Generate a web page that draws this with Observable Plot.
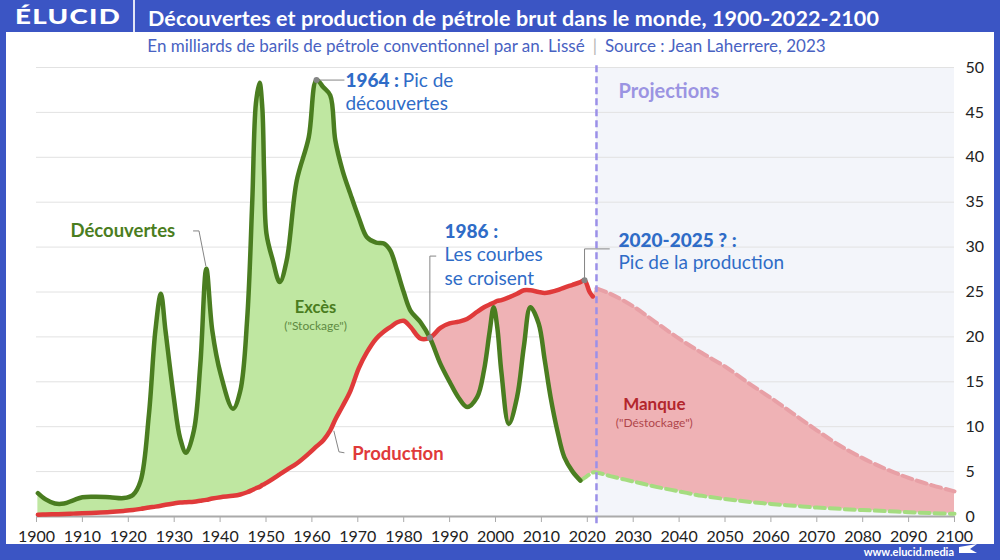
<!DOCTYPE html>
<html><head><meta charset="utf-8">
<script src="https://cdn.jsdelivr.net/npm/d3@7"></script>
<script src="https://cdn.jsdelivr.net/npm/@observablehq/plot@0.6"></script>
<style>
html,body{margin:0;padding:0}
body{width:1000px;height:560px;background:#3b55c4;position:relative;overflow:hidden;font-family:Lato,"Noto Sans",sans-serif}
#panel{position:absolute;left:6px;top:32px;width:988px;height:512px;background:#fff}
#chart{position:absolute;left:0;top:0}
#logo{position:absolute;left:15px;top:2px;height:28px;line-height:28px;color:#fff;font-weight:900;font-size:21px;letter-spacing:1px;transform:scaleX(1.32);transform-origin:left center}
#sep{position:absolute;left:133px;top:0;width:1.5px;height:32px;background:#fff;opacity:.85}
#title{position:absolute;left:148px;top:5px;line-height:26px;color:#fff;font-weight:700;font-size:21.5px;letter-spacing:0.1px;white-space:nowrap}
#subtitle{position:absolute;left:0;width:973px;text-align:center;top:37px;line-height:18px;color:#4862c2;font-size:17px;white-space:nowrap}
#subtitle .bar{color:#b5b5b5;margin:0 8px}
#footer{position:absolute;right:46px;top:545px;line-height:13px;color:#fff;font-size:11px;font-weight:700}
#flag{position:absolute;left:0;top:0}
</style>
</head><body>
<div id="panel"></div>
<div id="chart"></div>
<div id="logo">ÉLUCID</div>
<div id="sep"></div>
<div id="title">Découvertes et production de pétrole brut dans le monde, 1900-2022-2100</div>
<div id="subtitle">En milliards de barils de pétrole conventionnel par an. Lissé<span class="bar">|</span>Source : Jean Laherrere, 2023</div>
<div id="footer">www.elucid.media</div>
<svg id="flag" width="1000" height="560"><polygon points="959,547 977,544 970,549 977,553 959,553" fill="#fff"/></svg>
<script>
// ---- data (milliards de barils / an) ----
const histYears = [1900.3,1902,1904,1906,1908,1910,1913,1916,1919,1921,1922.7,1924.5,1925.9,1927.1,1928.1,1929.9,1931.3,1932.6,1934.3,1935.7,1937,1938.3,1940.1,1942.8,1944.4,1945.9,1947,1947.8,1948.6,1949.2,1949.6,1950.1,1951.5,1953,1954.5,1956.7,1959.3,1961,1962.5,1964,1965.1,1966.7,1968.4,1970.2,1972,1974,1975.7,1977.1,1978.5,1980,1981.5,1983.7,1985.7,1988,1990,1992,1993.8,1996,1997.5,1998.7,1999.6,2000.4,2001.3,2002.9,2004.7,2006.2,2007.6,2009.4,2010.7,2012,2013.5,2015,2016.8,2018.5,2019.4,2020.5,2021.2];
const discoveries = [2.6,1.9,1.45,1.45,1.8,2.15,2.2,2.15,2.05,2.4,4.0,11.4,20.7,24.8,20.7,13.3,8.7,7.1,9.6,17,27.6,20.7,15.9,12.0,14,22,35,46,48.3,45.5,38,31.5,28.5,26.1,28.5,37.4,42.2,48.6,47.8,46.9,41.9,38.5,35.9,33.3,31.1,30.5,30.4,29.6,27.5,25,22.9,21.6,19.9,17,15,13.2,12.2,13.3,16.3,20.5,23.3,21,16,10.3,13.3,19,23.3,21.5,17.5,13.3,9.5,6.6,5.0,4.0,4.3,4.7,4.9];
const production = [0.2,0.22,0.25,0.28,0.32,0.36,0.42,0.5,0.62,0.72,0.85,1.0,1.1,1.2,1.3,1.45,1.55,1.6,1.65,1.75,1.85,2.0,2.15,2.3,2.45,2.7,2.95,3.15,3.3,3.5,3.6,3.75,4.2,4.7,5.2,5.9,7.0,7.8,8.5,9.6,10.8,12.3,14.0,16.5,18.3,19.8,20.6,21.1,21.6,21.8,21.1,19.8,19.9,21.0,21.5,21.7,22.0,22.8,23.3,23.6,23.8,24.0,24.1,24.4,24.8,25.2,25.2,25.0,24.9,25.0,25.2,25.5,25.8,26.1,26.3,25.0,24.5];
const projYears = [2022,2025,2030,2035,2040,2045,2050,2055,2060,2065,2070,2075,2080,2085,2090,2095,2100];
const projProduction = [25.4,24.8,23.4,21.6,19.8,18.2,16.7,14.9,13.2,11.4,9.6,7.9,6.5,5.3,4.3,3.5,2.8];
const projDiscoveries = [4.9,4.5,3.9,3.3,2.8,2.3,1.95,1.65,1.4,1.2,1.0,0.85,0.72,0.6,0.48,0.38,0.3];
const xTicks = [1900,1910,1920,1930,1940,1950,1960,1970,1980,1990,2000,2010,2020,2030,2040,2050,2060,2070,2080,2090,2100];
const yTicks = [0,5,10,15,20,25,30,35,40,45,50];
const crossYear = 1985.7;      // 1986 : les courbes se croisent
const lastObserved = 2018.5;   // fin des découvertes observées

// ---- tables ----
const hist = histYears.map((year, i) => ({year, disc: discoveries[i], prod: production[i]}));
const proj = projYears.map((year, i) => ({year, disc: projDiscoveries[i], prod: projProduction[i]}));
const excess = hist.filter(d => d.year <= crossYear);
const shortfall = hist.filter(d => d.year >= crossYear).concat(proj);
const discSolid = hist.filter(d => d.year <= lastObserved);
const discDashed = hist.filter(d => d.year >= lastObserved).concat(proj);
const peakDisc = hist.reduce((a, b) => b.disc > a.disc ? b : a);
const peakProd = hist.reduce((a, b) => b.prod > a.prod ? b : a);
const cross = hist.find(d => d.year === crossYear);

const GREEN = "#4a7d20", RED = "#e03a3a", BLUE = "#2f6cc7", GREY = "#858585";
const curve = "catmull-rom";
const note = (x, y, text, o = {}) => Plot.text([{x, y, text}], {x: "x", y: "y", text: "text", textAnchor: "start", lineAnchor: "middle", fontSize: 19, fill: BLUE, ...o});
const leader = (pts) => Plot.line(pts, {x: d => d[0], y: d => d[1], stroke: GREY, strokeWidth: 1});

const chart = Plot.plot({
  width: 1000, height: 560,
  marginLeft: 36, marginRight: 46, marginTop: 67, marginBottom: 44,
  x: {domain: [1900, 2100]},
  y: {domain: [0, 50]},
  style: {background: "transparent", fontFamily: "Lato, 'Noto Sans', sans-serif"},
  marks: [
    Plot.rect([proj], {x1: () => projYears[0], x2: () => projYears[projYears.length - 1], y1: () => 0, y2: () => 50, fill: "#f3f5fa"}),
    Plot.gridY(yTicks.filter(t => t > 0), {stroke: "#e2e2e2", strokeOpacity: 1, strokeWidth: 1}),
    Plot.areaY(excess, {x: "year", y1: "disc", y2: "prod", fill: "#bfe7a1", curve}),
    Plot.areaY(shortfall, {x: "year", y1: "disc", y2: "prod", fill: "#efb2b5", curve}),
    Plot.ruleY([0], {stroke: "#aaaaaa", strokeWidth: 2}),
    Plot.line(discDashed, {x: "year", y: "disc", stroke: "#a5dc80", strokeWidth: 4, strokeDasharray: "10,5", curve}),
    Plot.line(proj, {x: "year", y: "prod", stroke: "#e8a0a6", strokeWidth: 4, strokeDasharray: "10,5", curve}),
    Plot.line(hist, {x: "year", y: "prod", stroke: RED, strokeWidth: 4.5, curve}),
    Plot.line(discSolid, {x: "year", y: "disc", stroke: GREEN, strokeWidth: 4.5, curve}),
    Plot.ruleX([projYears[0]], {y1: -0.8, y2: 50.3, stroke: "#9b90e8", strokeWidth: 2.5, strokeDasharray: "7,4"}),
    // leaders
    leader([[peakDisc.year + 0.6, peakDisc.disc], [1967.0, peakDisc.disc]]),
    leader([[1934.2, 31.8], [1935.4, 31.8], [1936.9, 27.9]]),
    leader([[1964.8, 9.5], [1965.9, 7.2], [1967.0, 7.1]]),
    leader([[1987.0, 29.0], [cross.year, 29.0], [cross.year, cross.disc]]),
    leader([[peakProd.year, peakProd.prod], [peakProd.year, 29.8], [2024.8, 29.8]]),
    Plot.dot([peakDisc, cross], {x: "year", y: "disc", r: 3, fill: GREY}),
    Plot.dot([peakProd], {x: "year", y: "prod", r: 3, fill: GREY}),
    // annotations
    note(1967.3, 48.55, "1964 :", {fontWeight: 900}),
    note(1979.8, 48.55, "Pic de"),
    note(1967.3, 46.0, "découvertes"),
    note(1907.4, 31.75, "Découvertes", {fill: GREEN, fontWeight: 700, fontSize: 18.5}),
    note(1960.8, 23.3, "Excès", {fill: GREEN, fontWeight: 700, fontSize: 16.5, textAnchor: "middle"}),
    note(1960.8, 21.2, "(\"Stockage\")", {fill: "#5e8a42", fontSize: 12, textAnchor: "middle"}),
    note(1968.8, 6.9, "Production", {fill: RED, fontWeight: 700, fontSize: 18.5}),
    note(1988.9, 31.7, "1986 :", {fontWeight: 900}),
    note(1988.9, 29.1, "Les courbes"),
    note(1988.9, 26.5, "se croisent"),
    note(2026.8, 30.7, "2020-2025 ? :", {fontWeight: 900}),
    note(2026.8, 28.2, "Pic de la production"),
    note(2026.8, 47.3, "Projections", {fill: "#9b94e2", fontWeight: 700, fontSize: 20}),
    note(2034.6, 12.5, "Manque", {fill: "#b3262c", fontWeight: 700, fontSize: 17, textAnchor: "middle"}),
    note(2034.6, 10.45, "(\"Déstockage\")", {fill: "#b0464b", fontSize: 12, textAnchor: "middle"}),
    // axes
    Plot.axisX(xTicks, {tickSize: 6, tickPadding: 8, tickFormat: d => String(d), stroke: "#aaaaaa", fill: "#222", fontSize: 16, label: null}),
    Plot.axisY(yTicks, {anchor: "right", tickSize: 0, tickPadding: 11, fill: "#222", fontSize: 16, label: null})
  ]
});
document.getElementById("chart").appendChild(chart);
</script>
</body></html>
